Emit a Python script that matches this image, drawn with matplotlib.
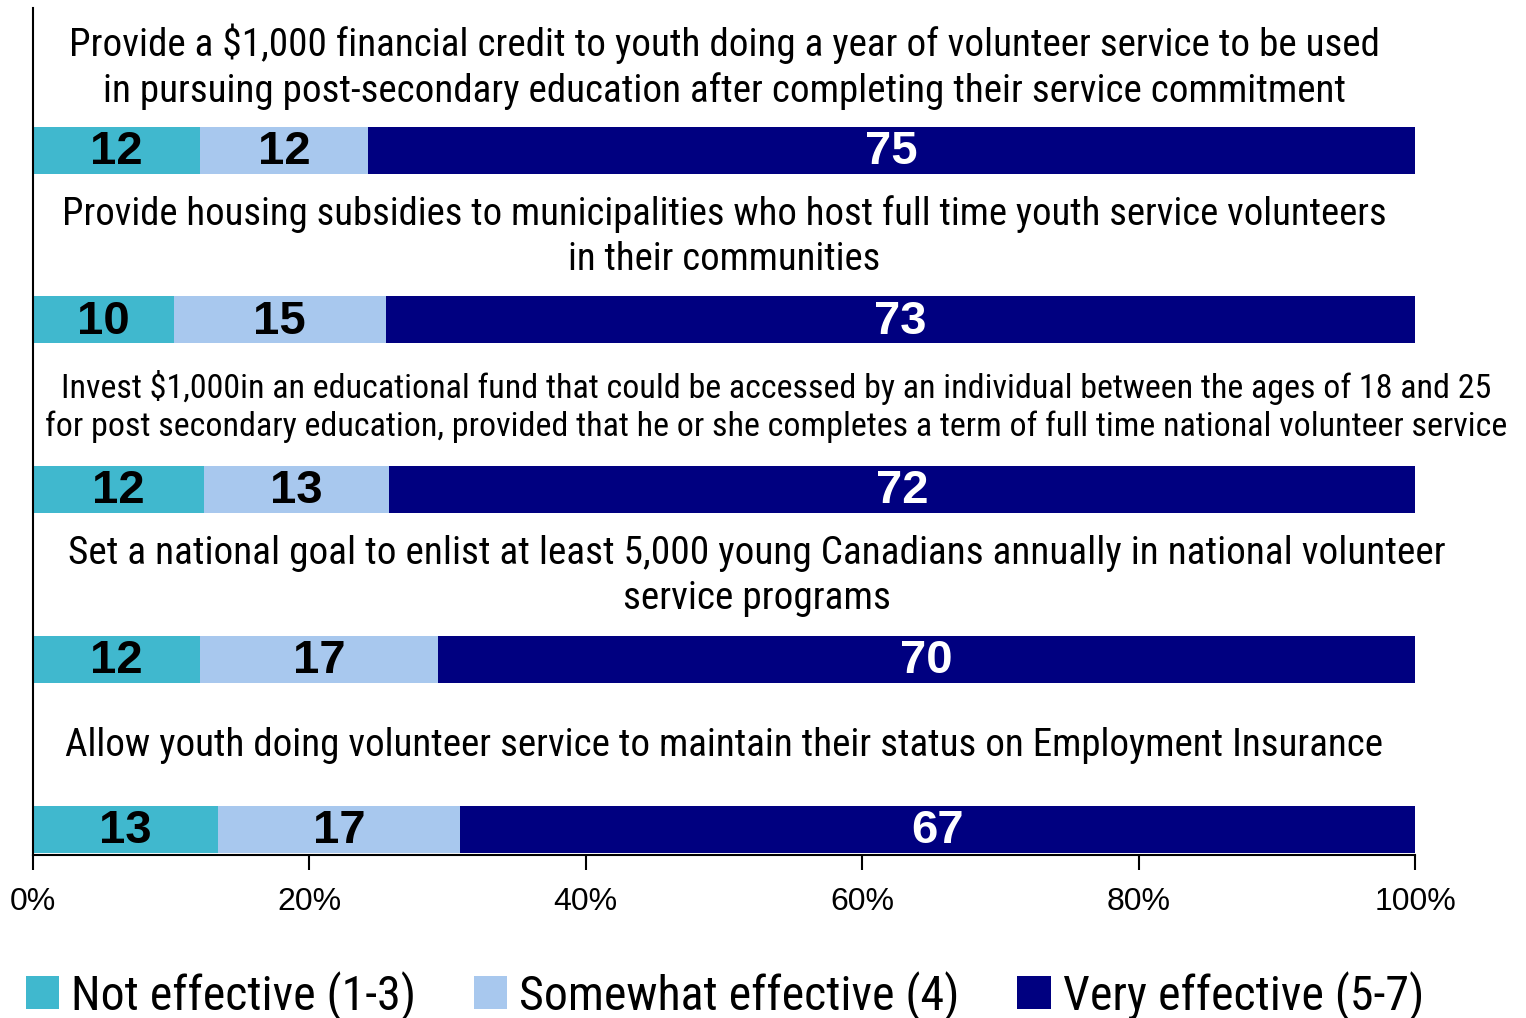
import matplotlib
matplotlib.use("Agg")
import matplotlib.pyplot as plt
from matplotlib.patches import Patch
import numpy as np

# survey items (top to bottom) and their shares
items = [
    "Provide a $1,000 financial credit to youth doing a year of volunteer service to be used\nin pursuing post-secondary education after completing their service commitment",
    "Provide housing subsidies to municipalities who host full time youth service volunteers\nin their communities",
    "Invest $1,000in an educational fund that could be accessed by an individual between the ages of 18 and 25\nfor post secondary education, provided that he or she completes a term of full time national volunteer service",
    "Set a national goal to enlist at least 5,000 young Canadians annually in national volunteer\nservice programs",
    "Allow youth doing volunteer service to maintain their status on Employment Insurance",
]
not_eff = [12, 10, 12, 12, 13]
somewhat_eff = [12, 15, 13, 17, 17]
very_eff = [75, 73, 72, 70, 67]

series_names = ["Not effective (1-3)", "Somewhat effective (4)", "Very effective (5-7)"]
colors = ["#40B8CE", "#A8C8EE", "#000080"]
label_colors = ["black", "black", "white"]

narrow = ["Roboto Condensed", "DejaVu Sans"]
plt.rcParams['font.family'] = ["Liberation Sans", "DejaVu Sans"]

fig = plt.figure(figsize=(15.26, 10.18), dpi=100)
ax = fig.add_axes([0.0216, 0.160, 0.9057, 0.832])

vals = np.array([not_eff, somewhat_eff, very_eff], dtype=float)
shares = vals / vals.sum(axis=0) * 100  # bars are scaled to fill 100%
y = np.arange(len(items))
bar_h = 0.277

left = np.zeros(len(items))
for k in range(3):
    ax.barh(y, shares[k], left=left, height=bar_h, color=colors[k], edgecolor='none')
    for i in range(len(items)):
        ax.text(left[i] + shares[k][i] / 2, y[i] + 0.01, "%d" % vals[k][i],
                ha='center', va='center', fontsize=34, fontweight='bold',
                color=label_colors[k])
    left += shares[k]

# item captions above each bar
cap_x = [50, 50, 53.8, 52.4, 50]
cap_size = [28.2, 27.9, 24.5, 28.3, 28.1]
cap_space = [1.27, 1.27, 1.25, 1.27, 1.27]
for i, txt in enumerate(items):
    ax.text(cap_x[i], y[i] - 0.49, txt, ha='center', va='center',
            fontsize=cap_size[i], family=narrow, linespacing=cap_space[i])

ax.set_xlim(0, 100)
ax.set_ylim(4.153, -0.837)
ax.set_xticks([0, 20, 40, 60, 80, 100])
ax.set_xticklabels(["0%", "20%", "40%", "60%", "80%", "100%"])
ax.tick_params(axis='x', labelsize=23, length=11, width=1.5, pad=12, direction='out')
ax.set_yticks([])
for s in ['top', 'right']:
    ax.spines[s].set_visible(False)
ax.spines['left'].set_linewidth(1.5)
ax.spines['bottom'].set_linewidth(1.5)

handles = [Patch(facecolor=c, edgecolor='none') for c in colors]
fig.legend(handles, series_names, loc='center', bbox_to_anchor=(0.475, 0.022),
           ncol=3, frameon=False, prop={'family': narrow, 'size': 34.5},
           handlelength=0.7, handleheight=0.7, handletextpad=0.25, columnspacing=1.2)

fig.savefig("out.png", dpi=100)
